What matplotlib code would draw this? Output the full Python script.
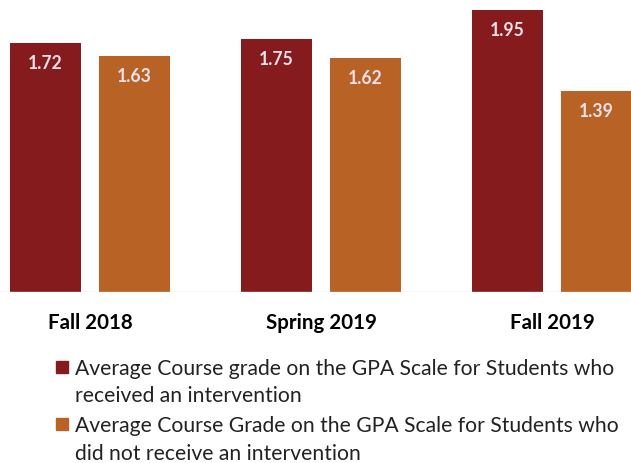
import matplotlib.pyplot as plt
import numpy as np
from matplotlib.patches import Rectangle

# data
terms = ["Fall 2018", "Spring 2019", "Fall 2019"]
with_intervention = [1.72, 1.75, 1.95]
without_intervention = [1.63, 1.62, 1.39]
series_labels = [
    "Average Course grade on the GPA Scale for Students who\nreceived an intervention",
    "Average Course Grade on the GPA Scale for Students who\ndid not receive an intervention",
]

RED = "#861B1D"
ORANGE = "#B86226"
VALUE_COLOR = "#E8E1EA"

plt.rcParams["font.family"] = ["Lato", "DejaVu Sans"]

W, H = 631, 463
fig = plt.figure(figsize=(W / 100, H / 100), dpi=100)
# plot area: baseline sits at ~292 px from the top
ax = fig.add_axes([0, (H - 292) / H, 1, 292 / H])

x = np.arange(len(terms))
width = 0.307
off = 0.192

bars1 = ax.bar(x - off, with_intervention, width, color=RED)
bars2 = ax.bar(x + off, without_intervention, width, color=ORANGE)

for bars, vals in [(bars1, with_intervention), (bars2, without_intervention)]:
    for b, v in zip(bars, vals):
        ax.annotate(f"{v:.2f}", (b.get_x() + b.get_width() / 2, v),
                    xytext=(0, -26), textcoords="offset pixels",
                    ha="center", va="baseline", color=VALUE_COLOR,
                    fontsize=12.7, fontweight="bold")

ax.set_xlim(-90 / 231, 541 / 231)
ax.set_ylim(0, 292 / 144.5)
ax.axhline(0, color="#d9d9d9", lw=1)
ax.axis("off")

# category labels under the bars
for xi, name in zip(x, terms):
    ax.annotate(name, (xi, 0), xytext=(0, -37), textcoords="offset pixels",
                ha="center", va="baseline", fontsize=14.8, fontweight="bold",
                color="black", annotation_clip=False)

# legend drawn by hand so the swatch lines up with the first text line
colors = [RED, ORANGE]
first_baselines = [375, 432]
line_gap = 27.5
for col, label, b0 in zip(colors, series_labels, first_baselines):
    fig.patches.append(Rectangle((56 / W, 1 - (b0 - 2) / H), 12 / W, 12 / H,
                                 transform=fig.transFigure, color=col))
    for i, line in enumerate(label.split("\n")):
        fig.text(75 / W, 1 - (b0 + i * line_gap) / H, line, ha="left",
                 va="baseline", fontsize=15.2, color="#222222")

fig.savefig("out.png", dpi=100)
